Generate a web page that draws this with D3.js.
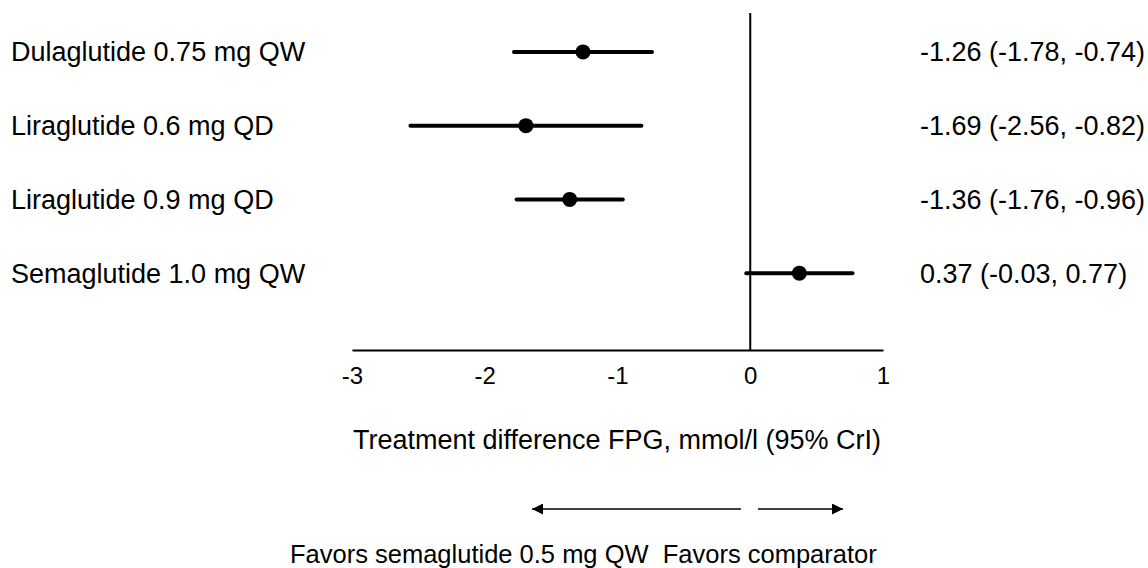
<!DOCTYPE html>
<html>
<head>
<meta charset="utf-8">
<script src="https://cdn.jsdelivr.net/npm/d3@7"></script>
<style>
  body { margin: 0; background: #fff; }
  svg text { font-family: "Liberation Sans", Arial, sans-serif; fill: #000; }
</style>
</head>
<body>
<div id="chart"></div>
<script>
var WIDTH = 1148;
var HEIGHT = 568;

// data
var treatments = ["Dulaglutide 0.75 mg QW", "Liraglutide 0.6 mg QD", "Liraglutide 0.9 mg QD", "Semaglutide 1.0 mg QW"];
var estimates = [-1.26, -1.69, -1.36, 0.37];
var lower = [-1.78, -2.56, -1.76, -0.03];
var upper = [-0.74, -0.82, -0.96, 0.77];
var tickValues = [-3, -2, -1, 0, 1];

var data = treatments.map(function(t, i) {
  return {name: t, est: estimates[i], lo: lower[i], hi: upper[i]};
});

var svg = d3.select("#chart").append("svg")
  .attr("width", WIDTH)
  .attr("height", HEIGHT);

var x = d3.scaleLinear().domain([-3, 1]).range([352, 883]);
var y = d3.scaleBand().domain(treatments).range([15, 310]);

var axisY = 350;

// vertical reference line at zero
svg.append("line")
  .attr("x1", x(0)).attr("x2", x(0))
  .attr("y1", 13).attr("y2", axisY)
  .attr("stroke", "#000")
  .attr("stroke-width", 2);

// x axis
var axis = svg.append("g")
  .attr("transform", "translate(0," + axisY + ")")
  .call(d3.axisBottom(x).tickValues(tickValues).tickSize(0).tickPadding(17).tickFormat(d3.format("d")));
axis.select(".domain").attr("stroke-width", 2);
axis.selectAll("text").style("font-size", "24px").text(function(d) { return d < 0 ? "-" + Math.abs(d) : d; });

// CI lines
svg.selectAll(".ci")
  .data(data)
  .enter().append("line")
  .attr("class", "ci")
  .attr("x1", function(d) { return x(d.lo); })
  .attr("x2", function(d) { return x(d.hi); })
  .attr("y1", function(d) { return y(d.name) + y.bandwidth() / 2; })
  .attr("y2", function(d) { return y(d.name) + y.bandwidth() / 2; })
  .attr("stroke", "#000")
  .attr("stroke-width", 4)
  .attr("stroke-linecap", "round");

svg.selectAll(".pt")
  .data(data)
  .enter().append("circle")
  .attr("class", "pt")
  .attr("cx", function(d) { return x(d.est); })
  .attr("cy", function(d) { return y(d.name) + y.bandwidth() / 2; })
  .attr("r", 7.5)
  .attr("fill", "#000");

// left labels
svg.selectAll(".lbl")
  .data(data)
  .enter().append("text")
  .attr("class", "lbl")
  .attr("x", 11)
  .attr("y", function(d) { return y(d.name) + y.bandwidth() / 2; })
  .attr("dy", "0.35em")
  .style("font-size", "27px")
  .text(function(d) { return d.name; });

// right estimates
var f = function(v) { return v.toFixed(2); };
svg.selectAll(".est")
  .data(data)
  .enter().append("text")
  .attr("class", "est")
  .attr("x", 920)
  .attr("y", function(d) { return y(d.name) + y.bandwidth() / 2; })
  .attr("dy", "0.35em")
  .style("font-size", "27px")
  .text(function(d) { return f(d.est) + " (" + f(d.lo) + ", " + f(d.hi) + ")"; });

// axis title
svg.append("text")
  .attr("x", 617)
  .attr("y", 449)
  .attr("text-anchor", "middle")
  .style("font-size", "27px")
  .text("Treatment difference FPG, mmol/l (95% CrI)");

// direction arrows
svg.append("defs").append("marker")
  .attr("id", "head")
  .attr("viewBox", "0 0 10 10")
  .attr("refX", 10).attr("refY", 5)
  .attr("markerWidth", 16).attr("markerHeight", 11)
  .attr("markerUnits", "userSpaceOnUse")
  .attr("orient", "auto")
  .append("path")
  .attr("d", "M0,0L10,5L0,10Z")
  .attr("fill", "#000");

var arrowY = 509;
svg.append("line")
  .attr("x1", 741).attr("x2", 532)
  .attr("y1", arrowY).attr("y2", arrowY)
  .attr("stroke", "#000").attr("stroke-width", 1.5)
  .attr("marker-end", "url(#head)");
svg.append("line")
  .attr("x1", 758).attr("x2", 843)
  .attr("y1", arrowY).attr("y2", arrowY)
  .attr("stroke", "#000").attr("stroke-width", 1.5)
  .attr("marker-end", "url(#head)");

svg.append("text")
  .attr("x", 290)
  .attr("y", 563)
  .style("font-size", "25.5px")
  .style("white-space", "pre")
  .text("Favors semaglutide 0.5 mg QW  Favors comparator");
</script>
</body>
</html>
